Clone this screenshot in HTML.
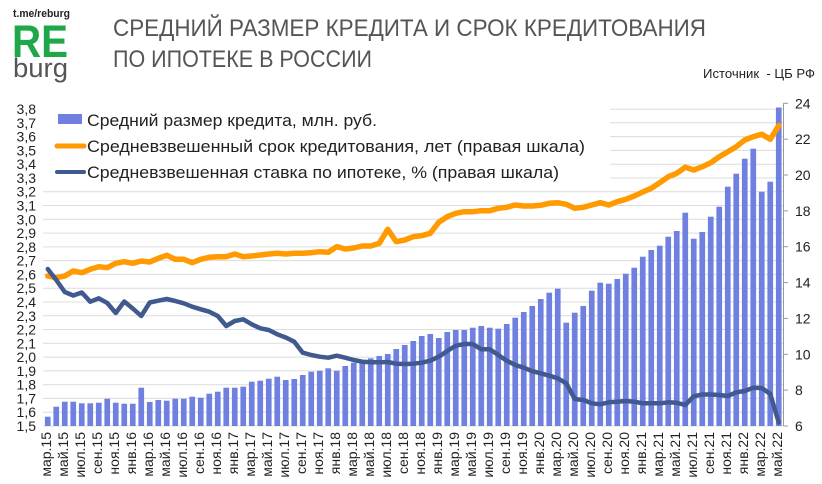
<!DOCTYPE html>
<html><head><meta charset="utf-8"><style>
html,body{margin:0;padding:0;background:#fff;}
svg{display:block;}
text{font-family:"Liberation Sans","Noto Sans CJK SC",sans-serif;}
</style></head><body>
<svg width="822" height="484" viewBox="0 0 822 484" xmlns="http://www.w3.org/2000/svg">
<rect width="822" height="484" fill="#fff"/>
<!-- logo -->
<text x="13" y="17" font-size="11" font-weight="bold" fill="#222" textLength="57" lengthAdjust="spacingAndGlyphs">t.me/reburg</text>
<text x="12" y="57" font-size="45" font-weight="bold" fill="#1fa84a" textLength="56" lengthAdjust="spacingAndGlyphs">RE</text>
<text x="13" y="77" font-size="27" fill="#555" textLength="55" lengthAdjust="spacingAndGlyphs">burg</text>
<!-- title -->
<text x="113" y="36" font-size="24" fill="#555" textLength="593" lengthAdjust="spacingAndGlyphs">СРЕДНИЙ РАЗМЕР КРЕДИТА И СРОК КРЕДИТОВАНИЯ</text>
<text x="113" y="67" font-size="24" fill="#555" textLength="259" lengthAdjust="spacingAndGlyphs">ПО ИПОТЕКЕ В РОССИИ</text>
<text x="703" y="78" font-size="13" fill="#222" textLength="112" lengthAdjust="spacingAndGlyphs" xml:space="preserve">Источник  - ЦБ РФ</text>

<!-- gridlines -->
<g stroke="#dcdcdc" stroke-width="1">
<line x1="43" x2="783" y1="426" y2="426"/><line x1="43" x2="783" y1="412.2" y2="412.2"/><line x1="43" x2="783" y1="398.4" y2="398.4"/><line x1="43" x2="783" y1="384.7" y2="384.7"/><line x1="43" x2="783" y1="370.9" y2="370.9"/><line x1="43" x2="783" y1="357.1" y2="357.1"/><line x1="43" x2="783" y1="343.3" y2="343.3"/><line x1="43" x2="783" y1="329.5" y2="329.5"/><line x1="43" x2="783" y1="315.8" y2="315.8"/><line x1="43" x2="783" y1="302" y2="302"/><line x1="43" x2="783" y1="288.2" y2="288.2"/><line x1="43" x2="783" y1="274.4" y2="274.4"/><line x1="43" x2="783" y1="260.6" y2="260.6"/><line x1="43" x2="783" y1="246.9" y2="246.9"/><line x1="43" x2="783" y1="233.1" y2="233.1"/><line x1="43" x2="783" y1="219.3" y2="219.3"/><line x1="43" x2="783" y1="205.5" y2="205.5"/><line x1="43" x2="783" y1="191.7" y2="191.7"/><line x1="43" x2="783" y1="178" y2="178"/><line x1="43" x2="783" y1="164.2" y2="164.2"/><line x1="43" x2="783" y1="150.4" y2="150.4"/><line x1="43" x2="783" y1="136.6" y2="136.6"/><line x1="43" x2="783" y1="122.8" y2="122.8"/><line x1="43" x2="783" y1="109.1" y2="109.1"/>
</g>
<!-- legend background -->
<rect x="42" y="97" width="568" height="89" fill="#fff"/>

<!-- left labels -->
<g font-size="14" fill="#222" text-anchor="end">
<text x="36" y="431">1,5</text><text x="36" y="417.2">1,6</text><text x="36" y="403.4">1,7</text><text x="36" y="389.7">1,8</text><text x="36" y="375.9">1,9</text><text x="36" y="362.1">2,0</text><text x="36" y="348.3">2,1</text><text x="36" y="334.5">2,2</text><text x="36" y="320.8">2,3</text><text x="36" y="307">2,4</text><text x="36" y="293.2">2,5</text><text x="36" y="279.4">2,6</text><text x="36" y="265.6">2,7</text><text x="36" y="251.9">2,8</text><text x="36" y="238.1">2,9</text><text x="36" y="224.3">3,0</text><text x="36" y="210.5">3,1</text><text x="36" y="196.7">3,2</text><text x="36" y="183">3,3</text><text x="36" y="169.2">3,4</text><text x="36" y="155.4">3,5</text><text x="36" y="141.6">3,6</text><text x="36" y="127.8">3,7</text><text x="36" y="114.1">3,8</text>
</g>

<!-- right axis -->
<g stroke="#999" stroke-width="1">
<line x1="783.5" x2="783.5" y1="103.3" y2="426"/>
<line x1="783.5" x2="788" y1="426" y2="426"/><line x1="783.5" x2="788" y1="390.1" y2="390.1"/><line x1="783.5" x2="788" y1="354.3" y2="354.3"/><line x1="783.5" x2="788" y1="318.4" y2="318.4"/><line x1="783.5" x2="788" y1="282.6" y2="282.6"/><line x1="783.5" x2="788" y1="246.7" y2="246.7"/><line x1="783.5" x2="788" y1="210.9" y2="210.9"/><line x1="783.5" x2="788" y1="175" y2="175"/><line x1="783.5" x2="788" y1="139.2" y2="139.2"/><line x1="783.5" x2="788" y1="103.3" y2="103.3"/>
</g>
<g font-size="14" fill="#222">
<text x="795" y="431">6</text><text x="795" y="395.1">8</text><text x="795" y="359.3">10</text><text x="795" y="323.4">12</text><text x="795" y="287.6">14</text><text x="795" y="251.7">16</text><text x="795" y="215.9">18</text><text x="795" y="180">20</text><text x="795" y="144.2">22</text><text x="795" y="108.3">24</text>
</g>

<!-- bars -->
<g fill="#7080e0">
<rect x="44.9" y="416.7" width="5.7" height="9.3"/>
<rect x="53.4" y="406.7" width="5.7" height="19.3"/>
<rect x="61.9" y="401.7" width="5.7" height="24.3"/>
<rect x="70.4" y="401.7" width="5.7" height="24.3"/>
<rect x="78.9" y="403.3" width="5.7" height="22.7"/>
<rect x="87.4" y="403.3" width="5.7" height="22.7"/>
<rect x="95.9" y="402.7" width="5.7" height="23.3"/>
<rect x="104.4" y="398.7" width="5.7" height="27.3"/>
<rect x="112.9" y="402.7" width="5.7" height="23.3"/>
<rect x="121.4" y="403.7" width="5.7" height="22.3"/>
<rect x="129.9" y="403.7" width="5.7" height="22.3"/>
<rect x="138.4" y="387.7" width="5.7" height="38.3"/>
<rect x="146.9" y="402" width="5.7" height="24"/>
<rect x="155.4" y="400" width="5.7" height="26"/>
<rect x="163.9" y="400.7" width="5.7" height="25.3"/>
<rect x="172.4" y="398.7" width="5.7" height="27.3"/>
<rect x="180.9" y="398.7" width="5.7" height="27.3"/>
<rect x="189.4" y="396.7" width="5.7" height="29.3"/>
<rect x="197.9" y="397.7" width="5.7" height="28.3"/>
<rect x="206.4" y="393.7" width="5.7" height="32.3"/>
<rect x="214.9" y="391.7" width="5.7" height="34.3"/>
<rect x="223.4" y="387.7" width="5.7" height="38.3"/>
<rect x="231.9" y="387.7" width="5.7" height="38.3"/>
<rect x="240.4" y="386.7" width="5.7" height="39.3"/>
<rect x="248.9" y="381.7" width="5.7" height="44.3"/>
<rect x="257.4" y="380.7" width="5.7" height="45.3"/>
<rect x="265.9" y="378.7" width="5.7" height="47.3"/>
<rect x="274.4" y="376.7" width="5.7" height="49.3"/>
<rect x="282.9" y="380" width="5.7" height="46"/>
<rect x="291.4" y="379" width="5.7" height="47"/>
<rect x="299.9" y="375" width="5.7" height="51"/>
<rect x="308.4" y="371.7" width="5.7" height="54.3"/>
<rect x="316.9" y="370.7" width="5.7" height="55.3"/>
<rect x="325.4" y="368.3" width="5.7" height="57.7"/>
<rect x="333.9" y="370.7" width="5.7" height="55.3"/>
<rect x="342.4" y="366" width="5.7" height="60"/>
<rect x="350.9" y="362.7" width="5.7" height="63.3"/>
<rect x="359.4" y="360.7" width="5.7" height="65.3"/>
<rect x="367.9" y="358.3" width="5.7" height="67.7"/>
<rect x="376.4" y="356" width="5.7" height="70"/>
<rect x="384.9" y="354" width="5.7" height="72"/>
<rect x="393.4" y="349" width="5.7" height="77"/>
<rect x="401.9" y="345" width="5.7" height="81"/>
<rect x="410.4" y="341" width="5.7" height="85"/>
<rect x="418.9" y="336" width="5.7" height="90"/>
<rect x="427.4" y="334" width="5.7" height="92"/>
<rect x="435.9" y="338" width="5.7" height="88"/>
<rect x="444.4" y="332" width="5.7" height="94"/>
<rect x="452.9" y="330" width="5.7" height="96"/>
<rect x="461.4" y="330" width="5.7" height="96"/>
<rect x="469.9" y="327.7" width="5.7" height="98.3"/>
<rect x="478.4" y="326" width="5.7" height="100"/>
<rect x="486.9" y="327.7" width="5.7" height="98.3"/>
<rect x="495.4" y="328.7" width="5.7" height="97.3"/>
<rect x="503.9" y="324" width="5.7" height="102"/>
<rect x="512.4" y="317.7" width="5.7" height="108.3"/>
<rect x="520.9" y="312" width="5.7" height="114"/>
<rect x="529.4" y="306" width="5.7" height="120"/>
<rect x="537.9" y="299" width="5.7" height="127"/>
<rect x="546.4" y="292.7" width="5.7" height="133.3"/>
<rect x="554.9" y="288.7" width="5.7" height="137.3"/>
<rect x="563.4" y="322.7" width="5.7" height="103.3"/>
<rect x="571.9" y="312.7" width="5.7" height="113.3"/>
<rect x="580.4" y="306" width="5.7" height="120"/>
<rect x="588.9" y="290.7" width="5.7" height="135.3"/>
<rect x="597.4" y="282.7" width="5.7" height="143.3"/>
<rect x="605.9" y="283.7" width="5.7" height="142.3"/>
<rect x="614.4" y="279" width="5.7" height="147"/>
<rect x="622.9" y="273.7" width="5.7" height="152.3"/>
<rect x="631.4" y="267.7" width="5.7" height="158.3"/>
<rect x="639.9" y="256.7" width="5.7" height="169.3"/>
<rect x="648.4" y="250" width="5.7" height="176"/>
<rect x="656.9" y="245.7" width="5.7" height="180.3"/>
<rect x="665.4" y="236.7" width="5.7" height="189.3"/>
<rect x="673.9" y="231" width="5.7" height="195"/>
<rect x="682.4" y="212.7" width="5.7" height="213.3"/>
<rect x="690.9" y="238.7" width="5.7" height="187.3"/>
<rect x="699.4" y="232" width="5.7" height="194"/>
<rect x="707.9" y="216.7" width="5.7" height="209.3"/>
<rect x="716.4" y="206.7" width="5.7" height="219.3"/>
<rect x="724.9" y="186.7" width="5.7" height="239.3"/>
<rect x="733.4" y="173.7" width="5.7" height="252.3"/>
<rect x="741.9" y="158.7" width="5.7" height="267.3"/>
<rect x="750.4" y="148.7" width="5.7" height="277.3"/>
<rect x="758.9" y="191.7" width="5.7" height="234.3"/>
<rect x="767.4" y="181.7" width="5.7" height="244.3"/>
<rect x="775.9" y="107.5" width="5.7" height="318.5"/>
</g>

<!-- orange line -->
<polyline fill="none" stroke="#ff9a00" stroke-width="5.5" stroke-linejoin="round" stroke-linecap="round" points="47.75,276 56.25,277.7 64.75,276 73.25,271 81.75,272.7 90.25,269.3 98.75,266.7 107.25,267.7 115.75,263.3 124.25,261.7 132.75,263.3 141.25,261 149.75,262 158.25,258.3 166.75,255.3 175.25,259.3 183.75,259.3 192.25,262.7 200.75,259.3 209.25,257.3 217.75,256.7 226.25,256.7 234.75,254 243.25,256.7 251.75,256 260.25,255 268.75,254 277.25,253.3 285.75,254 294.25,253.3 302.75,253.3 311.25,252.7 319.75,251.7 328.25,252.3 336.75,246.7 345.25,249 353.75,248 362.25,246 370.75,246 379.25,243.3 387.75,229.3 396.25,241.7 404.75,240 413.25,236.7 421.75,235.7 430.25,233.3 438.75,222.3 447.25,216.7 455.75,213.3 464.25,211.7 472.75,211.7 481.25,210.7 489.75,210.7 498.25,208.3 506.75,207.3 515.25,205 523.75,206 532.25,206 540.75,205.3 549.25,203.3 557.75,202.7 566.25,204.3 574.75,208.3 583.25,207.3 591.75,205 600.25,202.7 608.75,205 617.25,201.7 625.75,199.3 634.25,196 642.75,192 651.25,188.3 659.75,182.7 668.25,176.7 676.75,173.3 685.25,167.3 693.75,170 702.25,166.7 710.75,162.7 719.25,156.7 727.75,151.7 736.25,146.7 744.75,140 753.25,136.7 761.75,134.3 770.25,139.3 778.75,125.5"/>

<!-- blue line -->
<polyline fill="none" stroke="#40598f" stroke-width="4.5" stroke-linejoin="round" stroke-linecap="round" points="47.75,269 56.25,280 64.75,292 73.25,295.5 81.75,292.5 90.25,301.7 98.75,298.3 107.25,303 115.75,313 124.25,301.5 132.75,308.5 141.25,316 149.75,302.5 158.25,300.7 166.75,299 175.25,301 183.75,303.3 192.25,306.7 200.75,309.3 209.25,311.7 217.75,316 226.25,326 234.75,321 243.25,319.3 251.75,324.3 260.25,328.3 268.75,330 277.25,334.3 285.75,337.5 294.25,341.7 302.75,352.7 311.25,355 319.75,356.7 328.25,357.7 336.75,355.7 345.25,357.7 353.75,360 362.25,361.7 370.75,362.3 379.25,362.3 387.75,362 396.25,363.7 404.75,364 413.25,363.7 421.75,362.7 430.25,360.7 438.75,356.7 447.25,351 455.75,345.7 464.25,344 472.75,344 481.25,349.3 489.75,349.3 498.25,355 506.75,360.7 515.25,365 523.75,367.7 532.25,371.2 540.75,373.3 549.25,375.7 557.75,378.3 566.25,383.3 574.75,399 583.25,400 591.75,403.3 600.25,404.3 608.75,402.3 617.25,401.7 625.75,401 634.25,401.7 642.75,403.3 651.25,403.3 659.75,403.3 668.25,402.3 676.75,402.8 685.25,405 693.75,396.3 702.25,394.5 710.75,394.5 719.25,395 727.75,396 736.25,392.3 744.75,391 753.25,387.7 761.75,388 770.25,394 778.75,422.5"/>

<!-- legend -->
<rect x="58" y="114" width="24" height="10" fill="#7080e0"/>
<line x1="57" x2="84" y1="146" y2="146" stroke="#ff9a00" stroke-width="5" stroke-linecap="round"/>
<line x1="57" x2="84" y1="172" y2="172" stroke="#40598f" stroke-width="4" stroke-linecap="round"/>
<g font-size="17" fill="#222">
<text x="87" y="126" textLength="290" lengthAdjust="spacingAndGlyphs">Средний размер кредита, млн. руб.</text>
<text x="87" y="152" textLength="498" lengthAdjust="spacingAndGlyphs">Средневзвешенный срок кредитования, лет (правая шкала)</text>
<text x="87" y="178" textLength="472" lengthAdjust="spacingAndGlyphs">Средневзвешенная ставка по ипотеке, % (правая шкала)</text>
</g>

<!-- x labels -->
<g font-size="14" fill="#222" text-anchor="end">
<text transform="translate(51,432) rotate(-90)">мар.15</text>
<text transform="translate(68,432) rotate(-90)">май.15</text>
<text transform="translate(85,432) rotate(-90)">июл.15</text>
<text transform="translate(102,432) rotate(-90)">сен.15</text>
<text transform="translate(119,432) rotate(-90)">ноя.15</text>
<text transform="translate(136,432) rotate(-90)">янв.16</text>
<text transform="translate(153,432) rotate(-90)">мар.16</text>
<text transform="translate(170,432) rotate(-90)">май.16</text>
<text transform="translate(187,432) rotate(-90)">июл.16</text>
<text transform="translate(204,432) rotate(-90)">сен.16</text>
<text transform="translate(221,432) rotate(-90)">ноя.16</text>
<text transform="translate(238,432) rotate(-90)">янв.17</text>
<text transform="translate(255,432) rotate(-90)">мар.17</text>
<text transform="translate(272,432) rotate(-90)">май.17</text>
<text transform="translate(289,432) rotate(-90)">июл.17</text>
<text transform="translate(306,432) rotate(-90)">сен.17</text>
<text transform="translate(323,432) rotate(-90)">ноя.17</text>
<text transform="translate(340,432) rotate(-90)">янв.18</text>
<text transform="translate(357,432) rotate(-90)">мар.18</text>
<text transform="translate(374,432) rotate(-90)">май.18</text>
<text transform="translate(391,432) rotate(-90)">июл.18</text>
<text transform="translate(408,432) rotate(-90)">сен.18</text>
<text transform="translate(425,432) rotate(-90)">ноя.18</text>
<text transform="translate(442,432) rotate(-90)">янв.19</text>
<text transform="translate(459,432) rotate(-90)">мар.19</text>
<text transform="translate(476,432) rotate(-90)">май.19</text>
<text transform="translate(493,432) rotate(-90)">июл.19</text>
<text transform="translate(510,432) rotate(-90)">сен.19</text>
<text transform="translate(527,432) rotate(-90)">ноя.19</text>
<text transform="translate(544,432) rotate(-90)">янв.20</text>
<text transform="translate(561,432) rotate(-90)">мар.20</text>
<text transform="translate(578,432) rotate(-90)">май.20</text>
<text transform="translate(595,432) rotate(-90)">июл.20</text>
<text transform="translate(612,432) rotate(-90)">сен.20</text>
<text transform="translate(629,432) rotate(-90)">ноя.20</text>
<text transform="translate(646,432) rotate(-90)">янв.21</text>
<text transform="translate(663,432) rotate(-90)">мар.21</text>
<text transform="translate(680,432) rotate(-90)">май.21</text>
<text transform="translate(697,432) rotate(-90)">июл.21</text>
<text transform="translate(714,432) rotate(-90)">сен.21</text>
<text transform="translate(731,432) rotate(-90)">ноя.21</text>
<text transform="translate(748,432) rotate(-90)">янв.22</text>
<text transform="translate(765,432) rotate(-90)">мар.22</text>
<text transform="translate(782,432) rotate(-90)">май.22</text>
</g>
</svg>
</body></html>
